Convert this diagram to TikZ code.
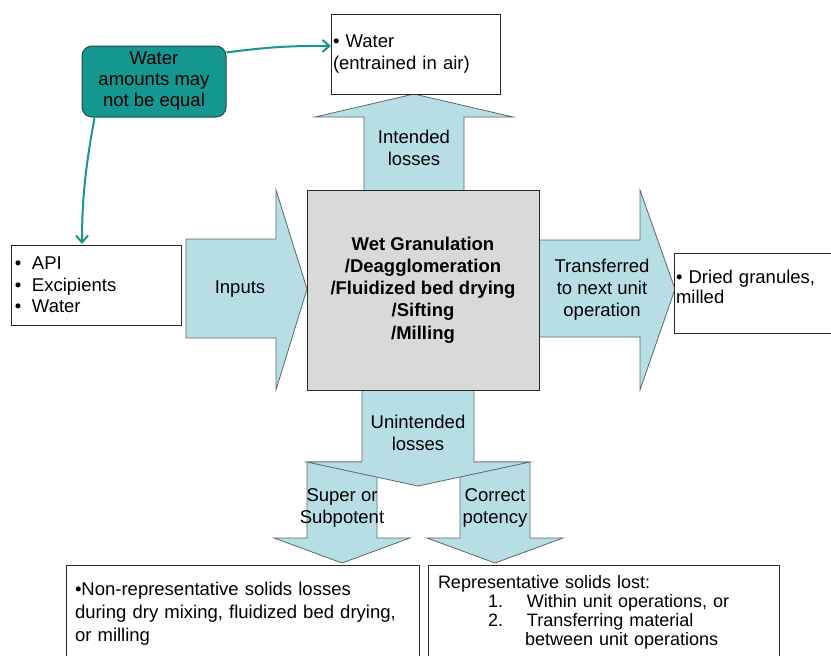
\documentclass[tikz,border=0pt]{standalone}
\usepackage{fontspec}
\setmainfont{Liberation Sans}
\usetikzlibrary{arrows.meta}
\definecolor{arrowfill}{RGB}{183,222,228}
\definecolor{arrowline}{RGB}{90,105,108}
\definecolor{procfill}{RGB}{217,217,217}
\definecolor{boxline}{RGB}{40,40,40}
\definecolor{tealfill}{RGB}{20,150,145}
\definecolor{tealline}{RGB}{25,148,142}
\definecolor{tealborder}{RGB}{40,75,75}
\newcommand\myfs[2]{\fontsize{#1}{#2}\selectfont}
\begin{document}
\begin{tikzpicture}[x=1pt,y=-1pt,
  blockarrow/.style={draw=arrowline,fill=arrowfill,line width=0.8pt,line join=miter},
  lbl/.style={align=center,inner sep=0pt,font=\myfs{18.5}{22}},
  box/.style={draw=boxline,fill=white,line width=1pt,outer sep=0pt,inner ysep=0pt},
  proc/.style={draw=boxline,fill=procfill,line width=1pt,outer sep=0pt,align=center,
    minimum width=232pt,minimum height=200pt,font=\bfseries\myfs{18.5}{22.2}},
  note/.style={draw=tealborder,fill=tealfill,line width=1pt,rounded corners=10pt,align=center,
    minimum width=144pt,minimum height=71pt,inner sep=0pt,font=\myfs{18.5}{21}},
  tealarrow/.style={draw=tealline,line width=2pt,-{Straight Barb[length=7pt,width=12pt]}}]
\useasboundingbox (0,0) rectangle (831,656);
\clip (0,0) rectangle (831,656);

% block arrows
\draw[blockarrow] (186,239) -- (276,239) -- (276,190) -- (307,289) -- (276,390) -- (276,338) -- (186,338) -- cycle;
\draw[blockarrow] (530,240) -- (640,240) -- (640,190) -- (675,289) -- (640,390) -- (640,337) -- (530,337) -- cycle;
\draw[blockarrow] (364,200) -- (364,117) -- (315,117) -- (414,94) -- (513,117) -- (464,117) -- (464,200) -- cycle;
\draw[blockarrow] (307,462) -- (377,462) -- (377,538) -- (410,538) -- (342,563) -- (274,538) -- (307,538) -- cycle;
\draw[blockarrow] (460,462) -- (530,462) -- (530,538) -- (563,538) -- (495,563) -- (427,538) -- (460,538) -- cycle;
\draw[blockarrow] (362,380) -- (474,380) -- (474,462) -- (530,462) -- (418,486) -- (307,462) -- (362,462) -- cycle;

% central process
\node[proc] (proc) at (423,290) {Wet Granulation\\/Deagglomeration\\/Fluidized bed drying\\/Sifting\\/Milling};

% boxes
\node[box,inner xsep=2pt,text width=165pt,minimum height=80pt,align=left,font=\myfs{18.5}{22}] (water) at (415.5,54)
  {• Water\\(entrained in air)};
\node[box,inner xsep=4pt,text width=162pt,minimum height=80pt,align=left,font=\myfs{18.5}{21.5}] (api) at (96,285)
  {\makebox[17pt][l]{•}API\\\makebox[17pt][l]{•}Excipients\\\makebox[17pt][l]{•}Water};
\node[box,inner xsep=2pt,text width=167pt,minimum height=80pt,align=left,font=\myfs{18.5}{20}] (dried) at (759.5,293)
  {• Dried granules,\\milled\rule[-12pt]{0pt}{0pt}};
\node[box,anchor=north west,inner xsep=9pt,text width=335pt,minimum height=97pt,align=left,font=\myfs{18.5}{23}] (nonrep) at (66,565)
  {•Non-representative solids losses\\during dry mixing, fluidized bed drying,\\or milling};
\node[box,anchor=north west,inner xsep=10pt,text width=331pt,minimum height=95pt,align=left,font=\myfs{18}{19}] (rep) at (428,565)
  {Representative solids lost:\\
   \hspace*{50pt}\makebox[39pt][l]{1.}Within unit operations, or\\
   \hspace*{50pt}\makebox[39pt][l]{2.}Transferring material\\
   \hspace*{87pt}between unit operations};

% note
\node[note] (note) at (154,81.5) {Water\\amounts may\\not be equal};

% arrow labels
\node[lbl] (inputs) at (240,289) {Inputs};
\node[lbl] (transf) at (602,290) {Transferred\\to next unit\\operation};
\node[lbl] (intended) at (414,148) {Intended\\losses};
\node[lbl] (unintended) at (418,433) {Unintended\\losses};
\node[lbl] (superl) at (342,508) {Super or\\Subpotent};
\node[lbl] (correct) at (495,508) {Correct\\potency};

% connectors
\draw[tealarrow] ([yshift=-7pt]note.north east) to[bend left=4] ([yshift=-32pt]water.north west);
\draw[tealarrow,shorten >=1pt] ([xshift=13pt]note.south west) .. controls +(-7,40) and +(0,-55) .. ([xshift=-14pt]api.north);
\end{tikzpicture}
\end{document}
